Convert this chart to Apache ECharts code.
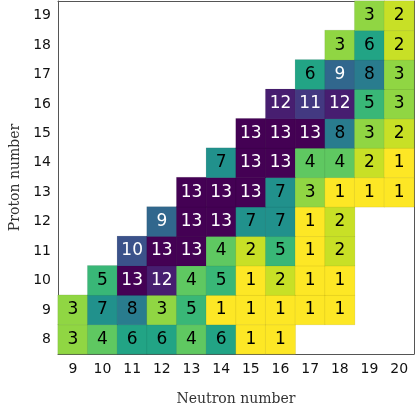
<!DOCTYPE html>
<html>
<head>
<meta charset="utf-8">
<script src="https://cdn.jsdelivr.net/npm/echarts@6/dist/echarts.min.js"></script>
<style>
  html, body { margin: 0; padding: 0; background: #fff; }
  #chart { width: 415px; height: 411px; }
</style>
</head>
<body>
<div id="chart"></div>
<script>
const neutronNumbers = ["9", "10", "11", "12", "13", "14", "15", "16", "17", "18", "19", "20"];
const protonNumbers = ["8", "9", "10", "11", "12", "13", "14", "15", "16", "17", "18", "19"];

// one row per proton number (8 .. 19), columns are neutron numbers 9 .. 20
const counts = [
  [3, 4, 6, 6, 4, 6, 1, 1, null, null, null, null],
  [3, 7, 8, 3, 5, 1, 1, 1, 1, 1, null, null],
  [null, 5, 13, 12, 4, 5, 1, 2, 1, 1, null, null],
  [null, null, 10, 13, 13, 4, 2, 5, 1, 2, null, null],
  [null, null, null, 9, 13, 13, 7, 7, 1, 2, null, null],
  [null, null, null, null, 13, 13, 13, 7, 3, 1, 1, 1],
  [null, null, null, null, null, 7, 13, 13, 4, 4, 2, 1],
  [null, null, null, null, null, null, 13, 13, 13, 8, 3, 2],
  [null, null, null, null, null, null, null, 12, 11, 12, 5, 3],
  [null, null, null, null, null, null, null, null, 6, 9, 8, 3],
  [null, null, null, null, null, null, null, null, null, 3, 6, 2],
  [null, null, null, null, null, null, null, null, null, null, 3, 2],
];

const viridis = ["#440154", "#482475", "#414487", "#355f8d", "#2a788e", "#21918c",
                 "#22a884", "#44bf70", "#7ad151", "#bddf26", "#fde725"];

const cells = [];
counts.forEach((row, yi) => {
  row.forEach((v, xi) => {
    if (v === null) return;
    cells.push({
      value: [xi, yi, v],
      label: { color: v >= 9 ? "#fff" : "#000" },
    });
  });
});

const axisLine = { lineStyle: { color: "#555", width: 1 } };
const tickIn = { inside: true, length: 4, alignWithLabel: true, lineStyle: { color: "#555" } };
const tickFont = { fontFamily: "DejaVu Sans", fontSize: 14, color: "#111" };

const chart = echarts.init(document.getElementById("chart"));
chart.setOption({
  animation: false,
  grid: { left: 54, right: 1, top: 1, bottom: 50, containLabel: false },
  xAxis: [
    {
      type: "category",
      data: neutronNumbers,
      position: "bottom",
      axisLine: axisLine,
      axisTick: tickIn,
      axisLabel: Object.assign({ margin: 8 }, tickFont),
      splitLine: { show: false },
      name: "Neutron number",
      nameLocation: "middle",
      nameGap: 38,
      nameTextStyle: { fontFamily: "DejaVu Serif", fontSize: 14, color: "#333" },
    },
    {
      type: "category",
      data: neutronNumbers,
      position: "top",
      axisLine: axisLine,
      axisTick: tickIn,
      axisLabel: { show: false },
    },
  ],
  yAxis: [
    {
      type: "category",
      data: protonNumbers,
      position: "left",
      axisLine: axisLine,
      axisTick: tickIn,
      axisLabel: Object.assign({ margin: 7 }, tickFont),
      splitLine: { show: false },
      name: "Proton number",
      nameLocation: "middle",
      nameGap: 36,
      nameTextStyle: { fontFamily: "DejaVu Serif", fontSize: 14, color: "#333" },
    },
    {
      type: "category",
      data: protonNumbers,
      position: "right",
      axisLine: axisLine,
      axisTick: tickIn,
      axisLabel: { show: false },
    },
  ],
  visualMap: {
    show: false,
    type: "continuous",
    min: 1,
    max: 13,
    dimension: 2,
    inRange: { color: viridis.slice().reverse() },
  },
  series: [
    {
      type: "heatmap",
      data: cells,
      label: {
        show: true,
        formatter: (p) => p.value[2],
        fontFamily: "DejaVu Sans",
        fontSize: 17,
      },
      itemStyle: { borderColor: "rgba(0,0,0,0.12)", borderWidth: 0.6 },
      emphasis: { disabled: true },
    },
  ],
});
</script>
</body>
</html>
